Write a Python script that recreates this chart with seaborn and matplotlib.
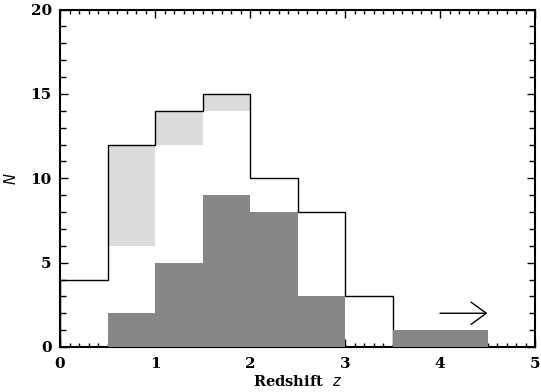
import numpy as np
import matplotlib
matplotlib.use("Agg")
import matplotlib.pyplot as plt
import seaborn as sns
from matplotlib.ticker import MultipleLocator

# Data
edges_all = [0.0, 0.5, 1.0, 1.5, 2.0, 2.5, 3.0, 3.5]
total_counts = [4, 12, 14, 15, 10, 8, 3]

light_left = [0.5, 1.0, 1.5]
light_bottom = [6, 12, 14]
light_top = [12, 14, 15]

dark_centers = [0.75, 1.25, 1.75, 2.25, 2.75, 3.25, 3.75, 4.25]
dark_counts = [2, 5, 9, 8, 3, 0, 1, 1]
dark_edges = [0.5, 1.0, 1.5, 2.0, 2.5, 3.0, 3.5, 4.0, 4.5]

arrow_x = [4.0, 4.5]
arrow_y = 2

sns.set_style("ticks")
plt.rcParams['font.family'] = ['DejaVu Serif']
plt.rcParams['text.color'] = 'black'
plt.rcParams['axes.labelcolor'] = 'black'
plt.rcParams['xtick.color'] = 'black'
plt.rcParams['ytick.color'] = 'black'

fig = plt.figure(figsize=(5.41, 3.92), dpi=100)
ax = fig.add_axes([60/541, 1-347/392, 475/541, 337.5/392])

# light gray segments
ax.bar(light_left, np.array(light_top) - np.array(light_bottom), width=0.5,
       bottom=light_bottom, align='edge', color='#dcdcdc', edgecolor='none', zorder=1)

# outline histogram
ax.stairs(total_counts, edges_all, color='black', linewidth=1.0, zorder=2, baseline=0)

# dark histogram
sns.histplot(x=dark_centers, weights=dark_counts, bins=dark_edges, ax=ax,
             color='#878787', alpha=1, edgecolor='none', linewidth=0, zorder=3)

ax.annotate('', xy=(arrow_x[1], arrow_y), xytext=(arrow_x[0], arrow_y),
            arrowprops=dict(arrowstyle='->,head_length=1.1,head_width=0.8',
                            color='black', lw=1.0, shrinkA=0, shrinkB=0), zorder=4)

ax.set_xlim(0, 5)
ax.set_ylim(0, 20)
ax.xaxis.set_major_locator(MultipleLocator(1))
ax.xaxis.set_minor_locator(MultipleLocator(0.1))
ax.yaxis.set_major_locator(MultipleLocator(5))
ax.yaxis.set_minor_locator(MultipleLocator(1))
ax.tick_params(which='both', direction='in', top=True, right=True, width=1.0, color='black',
               labelcolor='black')
ax.tick_params(which='major', length=6)
ax.tick_params(which='minor', length=3)
ax.tick_params(axis='y', which='minor', length=4)
ax.tick_params(axis='x', which='major', pad=7)
ax.tick_params(axis='y', which='major', pad=6)
for lab in ax.get_xticklabels() + ax.get_yticklabels():
    lab.set_fontweight('bold')
    lab.set_fontsize(11)
for s in ax.spines.values():
    s.set_linewidth(1.5)
    s.set_color('black')

ax.set_xlabel(r'Redshift  $\mathit{z}$', fontsize=10.5, fontweight='bold', labelpad=2)
ax.set_ylabel(r'$\mathit{N}$', fontsize=10.5, labelpad=8)

fig.savefig('out.png', dpi=100)
